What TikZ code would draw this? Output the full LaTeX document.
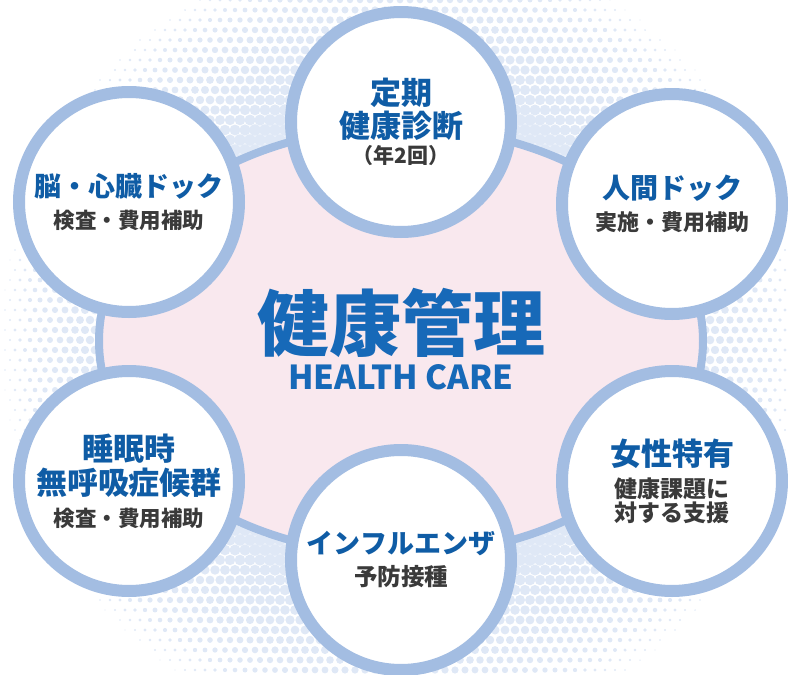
\documentclass[tikz,border=0pt]{standalone}
\usepackage{fontspec}
\setmainfont{Noto Sans CJK JP}
\usetikzlibrary{positioning}

\definecolor{ringblue}{HTML}{A3BDE2}
\definecolor{haloblue}{HTML}{DFE8F6}
\definecolor{blobpink}{HTML}{F9E8EE}
\definecolor{titleblue}{HTML}{0F5CA5}
\definecolor{centerblue}{HTML}{1769B8}
\definecolor{textgray}{HTML}{3A3A3A}

% testi dei cerchi
\newcommand{\bubblehead}[2][27]{{\fontsize{#1}{#1}\selectfont\bfseries\color{titleblue}#2}}
\newcommand{\bubblesub}[2][21.5]{{\fontsize{#1}{#1}\selectfont\bfseries\color{textgray}#2}}

\begin{document}
\begin{tikzpicture}[x=1pt, y=-1pt,
	bubble/.style={circle, draw=ringblue, line width=12pt, fill=white,
		minimum size=220pt, inner sep=0pt, align=center,
		font=\fontsize{12}{32}\selectfont}]
		% Definizioni
		\def\cx{401}  % centro orizzontale
		\def\cy{341}  % centro verticale
		
		% --- Sfondo a retino ---
		\useasboundingbox (0,0) rectangle (788,675);
		\clip (0,0) rectangle (788,675);
		\foreach \j in {0,...,68}{
			\foreach \i in {0,...,79}{
				\pgfmathsetmacro{\dotx}{10*\i+5*mod(\j,2)}
				\pgfmathsetmacro{\doty}{10*\j}
				\pgfmathsetmacro{\tone}{min(1,max(0,(405-veclen(\dotx-\cx,\doty-\cy))/150))}
				\ifdim\tone pt>0.03pt
					\pgfmathsetmacro{\rr}{5.8*\tone^0.65}
					\fill[haloblue] (\dotx,\doty) circle[radius=\rr pt];
				\fi
			}
		}
		
		% --- Forma centrale ---
		\draw[ringblue, line width=8pt, fill=blobpink] (\cx,\cy) ellipse [x radius=302pt, y radius=214pt];
		
		% --- Cerchi ---
		\node[bubble] (checkup) at (401,122) {\bubblehead[31]{定期}\\[1pt]\bubblehead[31]{健康診断}\\[-6pt]\bubblesub[21]{（年2回）}};
		\node[bubble] (brain) at (129,202) {\bubblehead{脳・心臓ドック}\\\bubblesub{検査・費用補助}};
		\node[bubble] (dock) at (672,204) {\bubblehead[28]{人間ドック}\\\bubblesub[22]{実施・費用補助}};
		\node[bubble] (sleep) at (129,481) {\bubblehead[31]{睡眠時}\\[2pt]\bubblehead[31]{無呼吸症候群}\\\bubblesub{検査・費用補助}};
		\node[bubble] (flu) at (401,560) {\bubblehead{インフルエンザ}\\\bubblesub[23.5]{予防接種}};
		\node[bubble] (women) at (672,481) {\bubblehead[31]{女性特有}\\\bubblesub[23]{健康課題に}\\[-8pt]\bubblesub[23]{対する支援}};
		
		% --- Titolo centrale ---
		\node[font=\fontsize{72}{72}\selectfont\bfseries, text=centerblue] (care) at (401,323) {健康管理};
		\node[font=\fontsize{33}{33}\selectfont\bfseries, text=centerblue, below=0pt of care] (careEn) {HEALTH CARE};
	\end{tikzpicture}
\end{document}
